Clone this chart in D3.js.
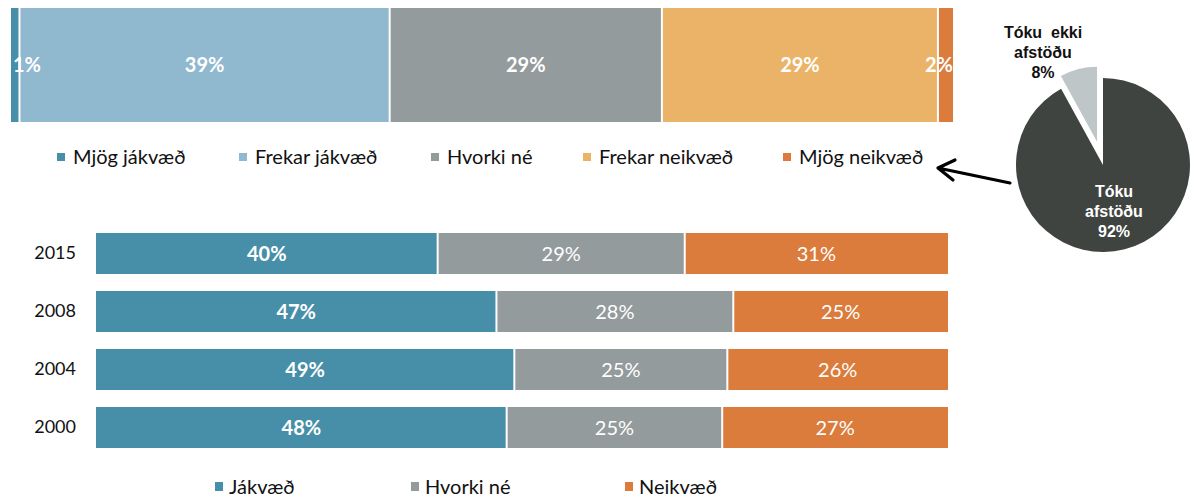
<!DOCTYPE html>
<html>
<head>
<meta charset="utf-8">
<script src="https://cdn.jsdelivr.net/npm/d3@7"></script>
<style>
  body { margin: 0; background: #fff; }
  svg { display: block; }
</style>
</head>
<body>
<svg id="chart" width="1191" height="497"></svg>
<script>
// top bar (2015, detailed answers)
var topCategories = ["Mjög jákvæð", "Frekar jákvæð", "Hvorki né", "Frekar neikvæð", "Mjög neikvæð"];
var topValues = [0.9, 39.3, 28.9, 29.3, 1.6];
var topColors = ["#478fa8", "#90b8cf", "#949b9c", "#ebb367", "#db7b3c"];

// bottom bars by year
var years = ["2015", "2008", "2004", "2000"];
var groupCategories = ["Jákvæð", "Hvorki né", "Neikvæð"];
var jakvaed = [40.1, 47.0, 49.1, 48.2];
var hvorki = [29.0, 27.8, 25.0, 25.3];
var neikvaed = [30.9, 25.2, 25.9, 26.5];
var groupColors = ["#478fa8", "#949b9c", "#db7b3c"];

// pie
var pieNames = ["Tóku afstöðu", "Tóku ekki afstöðu"];
var pieValues = [92, 8];
var pieColors = ["#404441", "#bfc6c7"];

var svg = d3.select("#chart");
var font = "Lato, 'Open Sans', sans-serif";
var pct = function(v) { return Math.round(v) + "%"; };

//---------- top stacked bar ----------
var xTop = d3.scaleLinear().domain([0, 100]).range([11, 953]);
var topY = 8, topH = 114;

var topData = [];
var acc = 0;
topValues.forEach(function(v, i) {
    topData.push({ i: i, x0: acc, x1: acc + v, v: v });
    acc += v;
});

svg.selectAll("rect.top").data(topData).enter().append("rect")
    .attr("class", "top")
    .attr("x", function(d) { return xTop(d.x0) + (d.i > 0 ? 1 : 0); })
    .attr("y", topY)
    .attr("width", function(d) { return xTop(d.x1) - xTop(d.x0) - (d.i > 0 ? 1 : 0) - (d.i < topData.length - 1 ? 1 : 0); })
    .attr("height", topH)
    .attr("fill", function(d) { return topColors[d.i]; });

var topText = svg.selectAll("text.top").data(topData).enter().append("text")
    .attr("class", "top")
    .attr("y", topY + topH / 2)
    .attr("dy", "0.35em")
    .attr("text-anchor", "middle")
    .style("font-family", font)
    .style("font-size", "20px")
    .style("font-weight", "bold")
    .attr("fill", "#fff")
    .text(function(d) { return pct(d.v); });

// keep labels inside the bar ends
topText.attr("x", function(d) {
    var w = this.getComputedTextLength();
    var c = (xTop(d.x0) + xTop(d.x1)) / 2;
    return Math.max(xTop(0) + 2 + w / 2, Math.min(xTop(100) - w / 2, c));
});

// top legend
var topLegendX = [57, 239, 431, 583, 783];
var topLeg = svg.selectAll("g.toplegend").data(topCategories).enter().append("g")
    .attr("class", "toplegend")
    .attr("transform", function(d, i) { return "translate(" + topLegendX[i] + ",157)"; });
topLeg.append("rect")
    .attr("x", 0).attr("y", -4).attr("width", 8).attr("height", 8)
    .attr("fill", function(d, i) { return topColors[i]; });
topLeg.append("text")
    .attr("x", 16).attr("dy", "0.35em")
    .style("font-family", font).style("font-size", "20px")
    .attr("fill", "#111")
    .text(function(d) { return d; });

//---------- bottom stacked bars ----------
var x = d3.scaleLinear().domain([0, 100]).range([96, 948]);
var y = d3.scaleBand().domain(years).range([233, 448]).paddingInner(17 / 58).paddingOuter(0);

var series = [jakvaed, hvorki, neikvaed];
var rows = years.map(function(yr, j) {
    var a = 0;
    return series.map(function(s, i) {
        var seg = { year: yr, i: i, x0: a, x1: a + s[j], v: s[j] };
        a += s[j];
        return seg;
    });
});
var segs = [].concat.apply([], rows);

svg.selectAll("rect.seg").data(segs).enter().append("rect")
    .attr("class", "seg")
    .attr("x", function(d) { return x(d.x0) + (d.i > 0 ? 1 : 0); })
    .attr("y", function(d) { return y(d.year); })
    .attr("width", function(d) { return x(d.x1) - x(d.x0) - (d.i > 0 ? 1 : 0) - (d.i < 2 ? 1 : 0); })
    .attr("height", y.bandwidth())
    .attr("fill", function(d) { return groupColors[d.i]; });

svg.selectAll("text.seg").data(segs).enter().append("text")
    .attr("class", "seg")
    .attr("x", function(d) { return (x(d.x0) + x(d.x1)) / 2; })
    .attr("y", function(d) { return y(d.year) + y.bandwidth() / 2; })
    .attr("dy", "0.35em")
    .attr("text-anchor", "middle")
    .style("font-family", font)
    .style("font-size", "20px")
    .style("font-weight", function(d) { return d.i == 0 ? "bold" : "normal"; })
    .attr("fill", "#fff")
    .text(function(d) { return pct(d.v); });

// year axis
var yAxis = svg.append("g")
    .attr("transform", "translate(76,0)")
    .call(d3.axisLeft(y).tickSize(0).tickPadding(0));
yAxis.select(".domain").remove();
yAxis.selectAll("text")
    .style("font-family", font).style("font-size", "18px").attr("fill", "#111");

// bottom legend
var botLegendX = [215, 411, 625];
var botLeg = svg.selectAll("g.botlegend").data(groupCategories).enter().append("g")
    .attr("class", "botlegend")
    .attr("transform", function(d, i) { return "translate(" + botLegendX[i] + ",487)"; });
botLeg.append("rect")
    .attr("x", 0).attr("y", -5).attr("width", 8).attr("height", 9)
    .attr("fill", function(d, i) { return groupColors[i]; });
botLeg.append("text")
    .attr("x", 14).attr("dy", "0.35em")
    .style("font-family", font).style("font-size", "20px")
    .attr("fill", "#111")
    .text(function(d) { return d; });

//---------- pie ----------
var cx = 1103, cy = 165;
var pie = d3.pie().sort(null).startAngle(0).endAngle(2 * Math.PI);
var arcs = pie(pieValues);
var radii = [87, 75];
var explode = [0, 24];

svg.selectAll("path.pie").data(arcs).enter().append("path")
    .attr("class", "pie")
    .attr("transform", function(d, i) {
        var a = (d.startAngle + d.endAngle) / 2;
        return "translate(" + (cx + Math.sin(a) * explode[i]) + "," + (cy - Math.cos(a) * explode[i]) + ")";
    })
    .attr("d", function(d, i) { return d3.arc().innerRadius(0).outerRadius(radii[i])(d); })
    .attr("fill", function(d, i) { return pieColors[i]; });

var pieFont = "'Liberation Sans', Arial, sans-serif";
var pieLabelPos = [[1114, 197, "#fff", ["Tóku", "afstöðu"]], [1043, 38, "#111", ["Tóku  ekki", "afstöðu"]]];
arcs.forEach(function(d, i) {
    var p = pieLabelPos[i];
    var t = svg.append("text")
        .attr("text-anchor", "middle")
        .style("font-family", pieFont).style("font-size", "16px").style("font-weight", "bold")
        .style("white-space", "pre")
        .attr("fill", p[2]);
    p[3].concat([pieValues[i] + "%"]).forEach(function(line, k) {
        t.append("tspan").attr("x", p[0]).attr("y", p[1] + k * 20).text(line);
    });
});

// arrow from pie to legend
svg.append("path")
    .attr("d", "M1010,183 L938,168 M955,160 L938,168 L953,180")
    .attr("fill", "none")
    .attr("stroke", "#000")
    .attr("stroke-width", 3.2)
    .attr("stroke-linecap", "round")
    .attr("stroke-linejoin", "round");
</script>
</body>
</html>
